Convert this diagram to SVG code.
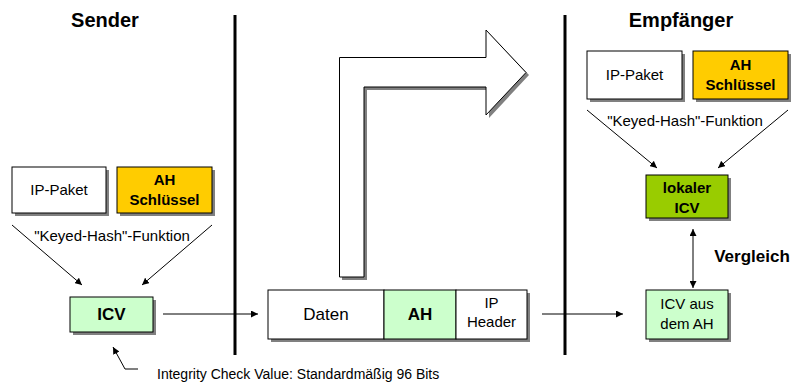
<svg xmlns="http://www.w3.org/2000/svg" width="796" height="387" viewBox="0 0 796 387">
<defs>
<style>
text{font-family:"Liberation Sans",Arial,sans-serif;fill:#000;text-anchor:middle}
.t{font-size:15px}
.b{font-weight:bold}
.title{font-size:20px;font-weight:bold}
.box{stroke:#000;stroke-width:1}
.sh{fill:#808080}
.c{stroke:#000;stroke-width:1;fill:none}
.sep{stroke:#000;stroke-width:3}
</style>
<marker id="ah" viewBox="0 0 10 10" refX="10" refY="5" markerWidth="7" markerHeight="7" markerUnits="userSpaceOnUse" orient="auto-start-reverse">
<path d="M0,0 L10,5 L0,10 z" fill="#000"/>
</marker>
</defs>
<rect width="796" height="387" fill="#fff"/>

<g id="separators">
<line class="sep" x1="235" y1="15" x2="235" y2="355"/>
<line class="sep" x1="565" y1="15" x2="565" y2="355"/>
</g>

<g id="titles">
<text class="title" x="105" y="27">Sender</text>
<text class="title" x="681" y="27">Empfänger</text>
</g>

<g id="bent-arrow">
<path class="sh" d="M342,280 L342,60 L489,60 L489,33 L529,75 L489,118 L489,90 L367,90 L367,280 Z"/>
<path d="M339.5,277 L339.5,57.5 L486,57.5 L486,30 L526,72.5 L486,115 L486,87 L364,87 L364,277 Z" fill="#fff" stroke="#000" stroke-width="1"/>
</g>

<g id="s-ippaket">
<rect class="sh" x="15" y="170" width="94" height="46"/>
<rect class="box" x="12" y="167" width="94" height="46" fill="#fff"/>
<text class="t" x="59" y="195">IP-Paket</text>
</g>
<g id="s-ahkey">
<rect class="sh" x="120" y="170" width="95" height="46"/>
<rect class="box" x="117" y="167" width="95" height="46" fill="#FFCC00"/>
<text class="t b" x="164.5" y="185">AH</text>
<text class="t b" x="164.5" y="205">Schlüssel</text>
</g>
<g id="s-icv">
<rect class="sh" x="73" y="300" width="83" height="35"/>
<rect class="box" x="70" y="297" width="83" height="35" fill="#CCFFCC"/>
<text class="b" x="111.5" y="320" font-size="17">ICV</text>
</g>

<g id="packet">
<rect class="sh" x="271" y="293" width="259" height="49"/>
<rect class="box" x="268" y="290" width="116" height="49" fill="#fff"/>
<rect class="box" x="384" y="290" width="72" height="49" fill="#CCFFCC"/>
<rect class="box" x="456" y="290" width="71" height="49" fill="#fff"/>
<text x="326" y="320" font-size="17">Daten</text>
<text class="b" x="420" y="320" font-size="17">AH</text>
<text class="t" x="491.5" y="308">IP</text>
<text class="t" x="491.5" y="327">Header</text>
</g>

<g id="r-ippaket">
<rect class="sh" x="590" y="54" width="95" height="48"/>
<rect class="box" x="587" y="51" width="95" height="48" fill="#fff"/>
<text class="t" x="634.5" y="80">IP-Paket</text>
</g>
<g id="r-ahkey">
<rect class="sh" x="696" y="54" width="95" height="48"/>
<rect class="box" x="693" y="51" width="95" height="48" fill="#FFCC00"/>
<text class="t b" x="740.5" y="70">AH</text>
<text class="t b" x="740.5" y="90">Schlüssel</text>
</g>
<g id="r-lokal">
<rect class="sh" x="649" y="178" width="82" height="43"/>
<rect class="box" x="646" y="175" width="82" height="43" fill="#99CC00"/>
<text class="t b" x="687" y="193">lokaler</text>
<text class="t b" x="687" y="213">ICV</text>
</g>
<g id="r-icvah">
<rect class="sh" x="649" y="293" width="82" height="49"/>
<rect class="box" x="646" y="290" width="82" height="49" fill="#CCFFCC"/>
<text class="t" x="687" y="309">ICV aus</text>
<text class="t" x="687" y="329">dem AH</text>
</g>

<g id="connectors">
<line class="c" x1="12" y1="225" x2="82" y2="285" marker-end="url(#ah)"/>
<line class="c" x1="212" y1="225" x2="142" y2="285" marker-end="url(#ah)"/>
<line class="c" x1="163" y1="314" x2="258" y2="314" marker-end="url(#ah)"/>
<line class="c" x1="542" y1="314" x2="623" y2="314" marker-end="url(#ah)"/>
<line class="c" x1="587" y1="110" x2="657" y2="168" marker-end="url(#ah)"/>
<line class="c" x1="788" y1="110" x2="718" y2="168" marker-end="url(#ah)"/>
<line class="c" x1="693" y1="229" x2="693" y2="288" marker-start="url(#ah)" marker-end="url(#ah)"/>
<polyline class="c" points="138,369 125,369 113,347" marker-end="url(#ah)"/>
</g>

<g id="labels">
<text class="t" x="112" y="241">"Keyed-Hash"-Funktion</text>
<text class="t" x="685" y="126">"Keyed-Hash"-Funktion</text>
<text class="b" x="752" y="262" font-size="17">Vergleich</text>
<text x="157" y="379" font-size="14" style="text-anchor:start">Integrity Check Value: Standardmäßig 96 Bits</text>
</g>
</svg>
